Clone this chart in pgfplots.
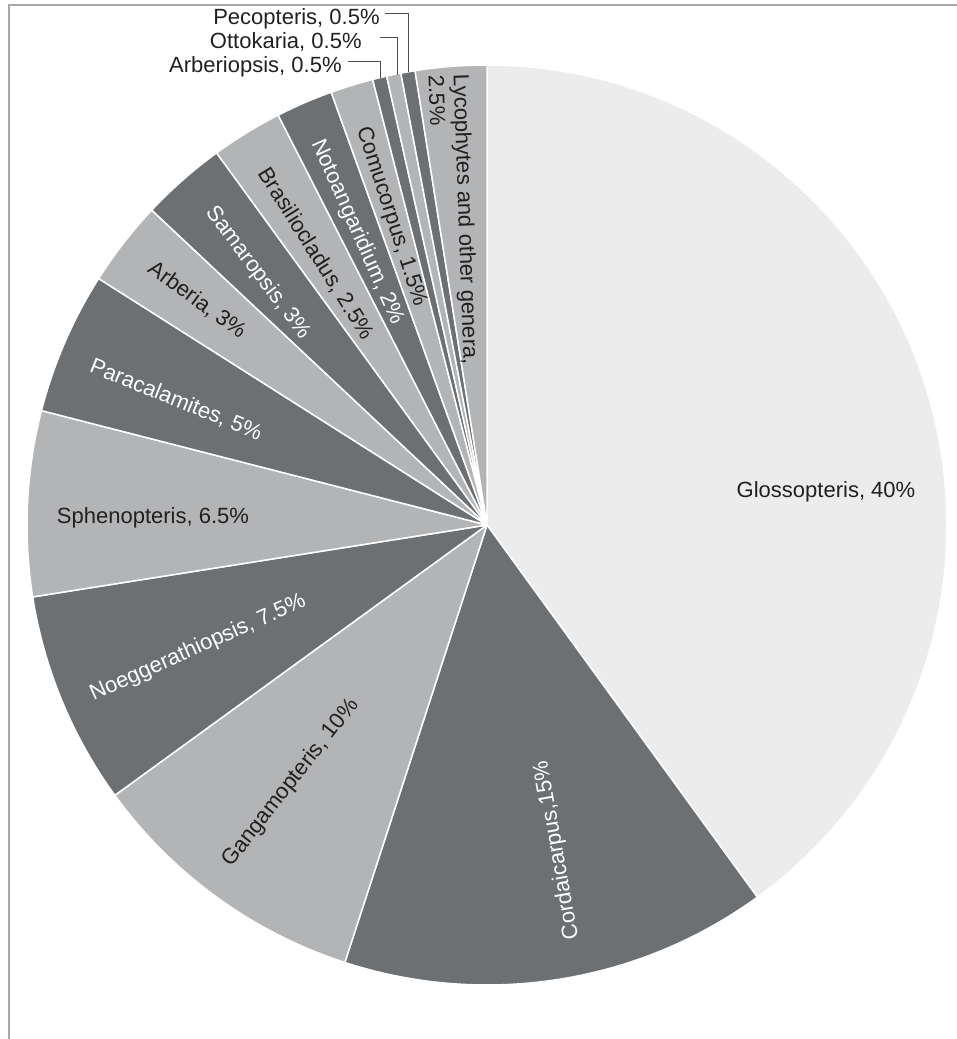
\documentclass[border=0pt]{standalone}
\usepackage{pgfplots}
\pgfplotsset{compat=1.18}
\usepackage{fontspec}
\setmainfont{Liberation Sans}

\definecolor{lightg}{HTML}{ECECEC}
\definecolor{midg}{HTML}{B2B4B5}
\definecolor{darkg}{HTML}{6D7073}
\definecolor{txt}{HTML}{231F20}
\definecolor{frame}{HTML}{A8A8A8}

\tikzset{lab/.style={font=\fontsize{11}{12.5}\selectfont, inner sep=0pt}}

% one wedge: #1 = percent already used (clockwise from 12 o'clock), #2 = percent, #3 = colour
\newcommand{\pieslice}[3]{%
  \addplot[draw=white, line width=0.75pt, line join=round, fill=#3]
    coordinates {(0,0)}
    -- ++({90-3.6*#1}:230pt)
    arc[start angle={90-3.6*#1}, delta angle={-3.6*#2}, radius=230pt] -- cycle;
}

\begin{document}
\begin{tikzpicture}
\useasboundingbox (0,0) rectangle (478.5pt,519.5pt);
\draw[frame, line width=1pt] (4.25pt,0) -- (4.25pt,516.75pt) -- (478.5pt,516.75pt);

\begin{axis}[
    at={(13.5pt,27pt)}, anchor=south west,
    width=460pt, height=460pt, scale only axis,
    hide axis, clip=false,
    xmin=-460, xmax=460, ymin=-460, ymax=460,
]
% cumulative, share, colour
\pieslice{0}{40}{lightg}     % Glossopteris
\pieslice{40}{15}{darkg}     % Cordaicarpus
\pieslice{55}{10}{midg}      % Gangamopteris
\pieslice{65}{7.5}{darkg}    % Noeggerathiopsis
\pieslice{72.5}{6.5}{midg}   % Sphenopteris
\pieslice{79}{5}{darkg}      % Paracalamites
\pieslice{84}{3}{midg}       % Arberia
\pieslice{87}{3}{darkg}      % Samaropsis
\pieslice{90}{2.5}{midg}     % Brasiliocladus
\pieslice{92.5}{2}{darkg}    % Notoangaridium
\pieslice{94.5}{1.5}{midg}   % Comucorpus
\pieslice{96}{0.5}{darkg}    % Arberiopsis
\pieslice{96.5}{0.5}{midg}   % Ottokaria
\pieslice{97}{0.5}{darkg}    % Pecopteris
\pieslice{97.5}{2.5}{midg}   % Lycophytes and other genera

% labels inside the slices
\node[lab, text=txt] at (axis cs:339,33) {Glossopteris, 40\%};
\node[lab, text=white, rotate=100] at (axis cs:70,-325) {Cordaicarpus,15\%};
\node[lab, text=txt, rotate=52] at (axis cs:-196,-258) {Gangamopteris, 10\%};
\node[lab, text=white, rotate=24] at (axis cs:-289,-123) {Noeggerathiopsis, 7.5\%};
\node[lab, text=txt] at (axis cs:-334,7) {Sphenopteris, 6.5\%};
\node[lab, text=white, rotate=-22] at (axis cs:-311,125) {Paracalamites, 5\%};
\node[lab, text=txt, rotate=-36] at (axis cs:-290,225) {Arberia, 3\%};
\node[lab, text=white, rotate=-53] at (axis cs:-229,252) {Samaropsis, 3\%};
\node[lab, text=txt, rotate=-58] at (axis cs:-171,271) {Brasiliocladus, 2.5\%};
\node[lab, text=white, rotate=-66] at (axis cs:-130,293) {Notoangaridium, 2\%};
\node[lab, text=txt, rotate=-72] at (axis cs:-96,308) {Comucorpus, 1.5\%};
\node[lab, text=txt, rotate=-88, align=left] at (axis cs:-33,305) {Lycophytes and other genera,\\2.5\%};

% small slices labelled outside with leader lines
\node[lab, text=txt, anchor=base east] at (axis cs:-107,500) {Pecopteris, 0.5\%};
\node[lab, text=txt, anchor=base east] at (axis cs:-125,476) {Ottokaria, 0.5\%};
\node[lab, text=txt, anchor=base east] at (axis cs:-145,452) {Arberiopsis, 0.5\%};
\addplot[txt!80, line width=0.5pt] coordinates {(-102,511) (-79,511) (-79,453)};
\addplot[txt!80, line width=0.5pt] coordinates {(-107,487) (-90,487) (-90,450)};
\addplot[txt!80, line width=0.5pt] coordinates {(-139,463) (-107,463) (-107,447)};
\end{axis}
\end{tikzpicture}
\end{document}
